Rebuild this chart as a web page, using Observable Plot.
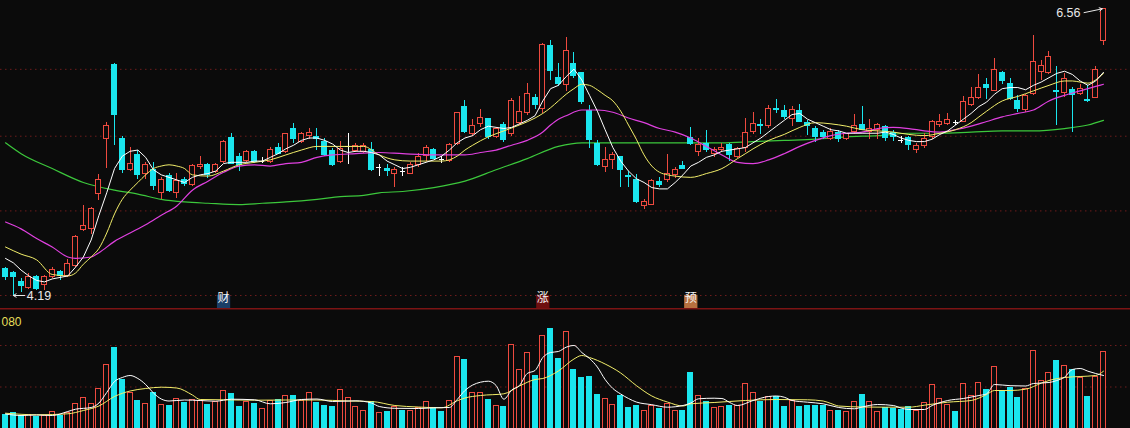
<!DOCTYPE html>
<html><head><meta charset="utf-8">
<script src="https://cdn.jsdelivr.net/npm/d3@7"></script>
<script src="https://cdn.jsdelivr.net/npm/@observablehq/plot@0.6"></script>
<style>
html,body{margin:0;padding:0;background:#0b0b0b;}
#chart{width:1130px;height:428px;overflow:hidden;position:relative;background:#0b0b0b;}
#chart svg{display:block;}
</style></head><body><div id="chart"></div>
<script>
// ---- candle data ----
const openP = [4.37,4.34,4.28,4.24,4.31,4.26,4.31,4.35,4.32,4.39,
4.64,4.65,4.91,5.35,6.01,5.35,5.10,5.22,5.07,5.10,
4.92,5.05,4.92,5.02,4.98,5.12,5.14,5.08,5.16,5.36,
5.20,5.17,5.24,5.17,5.16,5.28,5.24,5.44,5.33,5.38,
5.37,5.33,5.25,5.16,5.29,5.25,5.24,5.26,5.12,5.11,
5.07,5.09,5.07,5.14,5.21,5.26,5.18,5.17,5.31,5.63,
5.39,5.48,5.52,5.37,5.47,5.39,5.49,5.57,5.71,5.61,
6.19,5.89,5.82,6.02,5.93,5.59,5.31,5.12,5.18,5.20,
5.05,5.02,4.82,4.83,5.00,5.02,5.06,5.13,5.36,5.24,
5.31,5.23,5.26,5.30,5.20,5.28,5.41,5.47,5.46,5.61,
5.59,5.52,5.59,5.49,5.44,5.40,5.35,5.40,5.35,5.41,
5.47,5.41,5.43,5.45,5.40,5.34,5.36,5.26,5.29,5.37,
5.47,5.48,5.49,5.50,5.64,5.71,5.82,5.77,5.93,5.83,
5.68,5.60,5.74,5.94,5.93,5.77,5.75,5.78,5.74,5.69,
5.71,6.24];
const highP = [4.38,4.35,4.30,4.34,4.32,4.32,4.38,4.36,4.43,4.60,
4.82,4.81,5.06,5.49,6.02,5.37,5.28,5.26,5.16,5.16,
5.04,5.07,5.07,5.04,5.14,5.21,5.15,5.15,5.34,5.40,
5.23,5.26,5.26,5.20,5.28,5.31,5.40,5.48,5.41,5.44,
5.44,5.36,5.27,5.33,5.40,5.31,5.31,5.32,5.14,5.14,
5.12,5.12,5.16,5.23,5.30,5.27,5.21,5.31,5.57,5.68,
5.52,5.60,5.53,5.45,5.49,5.70,5.72,5.84,5.74,6.21,
6.24,6.02,6.27,6.13,5.94,5.64,5.34,5.28,5.24,5.21,
5.09,5.06,4.87,5.02,5.04,5.22,5.12,5.17,5.45,5.36,
5.42,5.28,5.31,5.31,5.28,5.53,5.58,5.52,5.64,5.69,
5.64,5.63,5.65,5.51,5.46,5.42,5.44,5.42,5.40,5.56,
5.63,5.52,5.48,5.47,5.42,5.37,5.37,5.31,5.40,5.51,
5.56,5.57,5.51,5.72,5.80,5.92,5.88,6.07,5.95,5.88,
5.73,5.74,6.29,6.05,6.14,5.99,5.93,5.80,5.83,5.82,
5.99,6.56];
const lowP = [4.29,4.19,4.21,4.23,4.22,4.22,4.30,4.29,4.31,4.38,
4.63,4.61,4.86,5.11,5.30,5.07,5.09,5.02,5.02,4.94,
4.87,4.92,4.88,4.97,4.97,5.10,5.03,5.07,5.15,5.14,
5.09,5.16,5.15,5.15,5.15,5.22,5.23,5.31,5.31,5.35,
5.26,5.21,5.13,5.15,5.14,5.24,5.23,5.09,5.05,5.05,
4.96,5.05,5.06,5.12,5.17,5.18,5.15,5.16,5.30,5.40,
5.37,5.45,5.35,5.36,5.32,5.37,5.47,5.55,5.60,5.57,
5.86,5.81,5.76,5.88,5.65,5.27,5.13,5.08,5.10,4.96,
4.96,4.84,4.79,4.82,4.96,5.00,5.03,5.10,5.30,5.21,
5.24,5.20,5.25,5.17,5.19,5.24,5.39,5.39,5.44,5.57,
5.52,5.46,5.49,5.38,5.32,5.35,5.34,5.32,5.34,5.39,
5.42,5.35,5.35,5.33,5.33,5.31,5.26,5.23,5.27,5.35,
5.45,5.47,5.47,5.49,5.63,5.69,5.69,5.76,5.83,5.68,
5.58,5.58,5.73,5.86,5.92,5.47,5.71,5.41,5.73,5.67,
5.70,6.19];
const closeP = [4.31,4.31,4.25,4.31,4.23,4.31,4.36,4.32,4.40,4.59,
4.67,4.80,5.02,5.46,5.56,5.10,5.15,5.06,5.14,4.97,
5.02,4.93,5.01,4.99,5.13,5.14,5.06,5.14,5.33,5.15,
5.14,5.24,5.16,5.17,5.26,5.23,5.39,5.35,5.39,5.40,
5.35,5.22,5.14,5.27,5.29,5.29,5.29,5.10,5.12,5.09,
5.10,5.09,5.14,5.20,5.28,5.19,5.18,5.30,5.57,5.41,
5.46,5.53,5.37,5.44,5.34,5.68,5.58,5.74,5.64,6.20,
5.95,5.83,6.14,5.91,5.67,5.34,5.14,5.18,5.22,5.10,
5.04,4.85,4.85,5.01,4.98,5.07,5.10,5.11,5.31,5.30,
5.26,5.26,5.28,5.22,5.27,5.40,5.48,5.46,5.61,5.60,
5.54,5.60,5.50,5.46,5.37,5.37,5.41,5.35,5.39,5.46,
5.43,5.44,5.47,5.36,5.37,5.34,5.30,5.29,5.35,5.50,
5.50,5.51,5.49,5.67,5.71,5.80,5.80,5.96,5.86,5.70,
5.61,5.72,6.04,6.00,6.08,5.76,5.88,5.73,5.79,5.68,
5.96,6.56];
const volume = [13.7,15.3,13,13.7,12,13,16.3,13,15.3,24.7,
30.7,24.7,39.7,63.7,80.7,48.7,35.7,28,24.7,35.7,
23.7,22.7,29.3,26,28.7,28,24,26.3,38,34.7,
22,27,24.7,19.7,28,28.7,33,33,28,35.7,
26,23,21.3,38.7,30.7,22,18,26.7,15.5,16.3,
21.3,18,18,20.7,27,19.7,16.3,28,72,69,
36,36,29,23,22,84,59,75.3,53,93,
100,70,97,59,50.3,52,34,29.7,24,33,
20.3,23,18,23,19.7,24.7,18,17.3,55.3,33,
27,20.3,22,22.3,23,44.7,35.7,26.3,32,32,
21.3,27.3,21.3,23,22.3,22.3,18,17.3,17,27,
34,27,17,20.3,19.3,18.7,21.3,17.3,25.7,43.7,
29.7,24,17,44.7,33,45.7,39,62,37.3,40.7,
30.3,39.7,78,48,55.3,68,63,58.7,50.3,31.3,
52,77];

// ---- moving averages ----
const ma5 = [4.44,4.41,4.36,4.32,4.29,4.28,4.30,4.31,4.32,4.38,
4.45,4.57,4.75,4.92,5.11,5.21,5.25,5.26,5.20,5.10,
5.06,5.04,5.02,5.00,5.04,5.06,5.07,5.09,5.15,5.16,
5.16,5.16,5.17,5.17,5.20,5.23,5.27,5.30,5.34,5.36,
5.36,5.34,5.31,5.26,5.24,5.25,5.25,5.24,5.22,5.17,
5.14,5.11,5.12,5.14,5.16,5.18,5.21,5.26,5.32,5.36,
5.38,5.43,5.46,5.45,5.44,5.45,5.48,5.51,5.55,5.68,
5.79,5.82,5.90,5.97,5.87,5.73,5.59,5.43,5.28,5.17,
5.09,5.03,5.00,4.96,4.95,4.95,5.00,5.06,5.13,5.16,
5.20,5.22,5.25,5.26,5.27,5.28,5.32,5.36,5.41,5.46,
5.51,5.56,5.57,5.52,5.49,5.46,5.43,5.42,5.40,5.40,
5.40,5.40,5.40,5.41,5.39,5.36,5.34,5.33,5.33,5.35,
5.39,5.42,5.47,5.52,5.57,5.63,5.67,5.74,5.79,5.80,
5.80,5.78,5.82,5.85,5.89,5.93,5.95,5.92,5.86,5.82,
5.86,5.94];
const ma10Idx = [0,2,4,6,8,9,10,11,12,13,14,15,16,17,18,19,20,21,22,23,24,26,28,30,32,34,36,38,40,43,46,48,50,52,54,56,58,59,60,62,64,66,68,69,70,71,72,73,74,75,76,77,78,79,80,81,82,83,84,85,86,88,90,92,94,95,96,98,100,102,104,106,108,110,112,114,116,118,120,122,124,125,126,128,130,132,134,136,137,138,139,140,141];
const ma10 = [4.52,4.47,4.43,4.33,4.32,4.34,4.40,4.45,4.51,4.62,4.76,4.87,4.94,5.00,5.06,5.11,5.13,5.14,5.13,5.11,5.06,5.05,5.09,5.14,5.16,5.18,5.22,5.26,5.29,5.29,5.29,5.22,5.18,5.17,5.17,5.17,5.21,5.26,5.30,5.37,5.42,5.47,5.53,5.57,5.62,5.68,5.74,5.79,5.83,5.82,5.78,5.73,5.68,5.59,5.47,5.35,5.22,5.13,5.08,5.06,5.05,5.04,5.07,5.11,5.19,5.23,5.27,5.34,5.39,5.45,5.49,5.48,5.46,5.43,5.42,5.41,5.39,5.38,5.40,5.43,5.49,5.54,5.59,5.68,5.72,5.77,5.82,5.86,5.86,5.85,5.84,5.87,5.93];
const ma20Idx = [0,2,4,6,8,9,11,12,14,16,18,20,22,24,26,28,30,32,34,36,38,40,42,45,48,51,55,59,61,63,65,67,69,70,71,72,74,76,78,80,82,84,86,88,90,92,94,96,98,100,102,104,106,108,110,112,114,116,118,120,122,124,126,128,130,132,134,136,138,140,141];
const ma20 = [4.70,4.65,4.58,4.52,4.45,4.44,4.45,4.48,4.56,4.62,4.68,4.75,4.82,4.94,5.01,5.08,5.13,5.14,5.13,5.15,5.16,5.20,5.22,5.23,5.24,5.23,5.22,5.22,5.24,5.26,5.30,5.34,5.41,5.47,5.52,5.55,5.60,5.60,5.58,5.53,5.49,5.44,5.41,5.36,5.29,5.22,5.16,5.15,5.18,5.23,5.29,5.34,5.38,5.40,5.41,5.44,5.45,5.44,5.42,5.41,5.43,5.46,5.50,5.54,5.57,5.60,5.68,5.73,5.77,5.81,5.83];
const ma60Idx = [0,2,6,10,14,17,20,23,26,30,33,36,40,43,46,48,51,55,59,63,67,71,74,78,85,92,96,100,104,108,112,116,120,124,128,132,136,139,141];
const ma60 = [5.32,5.23,5.11,5.00,4.94,4.91,4.87,4.85,4.84,4.83,4.84,4.85,4.87,4.89,4.90,4.92,4.93,4.96,5.01,5.10,5.19,5.29,5.32,5.32,5.32,5.32,5.33,5.34,5.35,5.37,5.38,5.40,5.40,5.41,5.42,5.42,5.44,5.47,5.51];
const vma5Idx = [0,2,4,6,8,9,11,12,13,14,15,16,17,18,19,20,21,23,25,27,29,32,34,36,38,40,42,45,47,48,50,53,55,57,58,59,60,61,62,63,64,65,66,67,68,69,70,71,72,73,74,75,76,77,78,79,80,81,83,85,87,88,89,91,92,93,94,96,98,99,100,101,103,105,107,109,110,112,114,115,116,118,119,121,123,125,126,127,129,131,132,134,135,136,137,138,139,140,141];
const vma5 = [14.5,13,13.5,13,17,19.3,21,25.5,36,47,51,53,50,44,35.5,29.5,27.5,28.5,28,27.3,29.3,28.7,24.7,26,29,29.5,27,27.7,25.5,22,20.2,20,20.7,21,29,38,43.5,46.3,47.3,43,29.3,38.5,43,55,58,71,76,77,81.3,83,76,70,61.5,49,40,34.5,30,26.5,23.8,21.3,23,25.5,29.7,30.3,30,26,23,28,32,32.5,31.3,28,26.3,24.7,21,19.7,21.5,24,23,20.5,19,19,23,28,30,33,34.7,44,42.8,42.5,45,46,48,51.3,59,60,57.3,55,53];
const vma10Idx = [0,4,8,10,12,14,16,18,20,22,24,25,28,32,36,40,44,47,50,53,56,58,59,61,64,66,68,69,71,73,74,75,77,79,81,83,85,87,88,91,95,99,103,105,106,107,110,113,116,118,121,124,126,127,129,131,133,134,136,138,140,141];
const vma10 = [15.3,13.7,14.7,18,22.5,32,37.5,40,41.3,40.5,33.5,29,28.7,28.3,28.5,28.5,27.5,27,23,21.5,20.7,27.7,30.5,33,34.7,42.5,49,50,57.5,69.5,73,71,64.5,55.5,43,32.5,26.5,22.5,24.7,26,28,29,28.7,27.5,25,22.5,21.5,21.3,21.3,23.3,26.3,28,34,38,38,39.3,45.3,48,51,52,53,57.3];

// ---- reference levels and markers ----
const priceGrid = [4.19, 4.7825, 5.375, 5.9675];
const volGrid = [41.5, 83];
const volLabel = "080";
const eventIdx = [28, 69, 88];
const eventText = ["财", "涨", "预"];
const eventColor = ["#1b3e66", "#6e0f0f", "#b8703f"];

// ---- build ----
const BG = "#0b0b0b", RED = "#ee4a3f", CYAN = "#1ae6ee", WHITE = "#ffffff";
const N = openP.length;
const candles = d3.range(N).map(i => {
  const o = openP[i], c = closeP[i];
  const kind = c > o ? "up" : c < o ? "down" : "doji";
  const volUp = c > o || (c === o && (i === 0 || c >= closeP[i - 1]));
  return {i, o, h: highP[i], l: lowP[i], c, v: volume[i], kind, volUp};
});
const col = d => d.kind === "up" ? RED : d.kind === "down" ? CYAN : WHITE;
const hw = 0.32;
const pts = (idx, vals) => idx.map((i, k) => ({i, v: vals[k]}));
const ma5Pts = ma5.map((v, i) => ({i, v}));
const xScale = {domain: [0, N - 1], range: [5, 1103], axis: null};
const hiIdx = d3.maxIndex(highP), loIdx = d3.minIndex(lowP);
const hiPt = [{i: hiIdx, p: highP[hiIdx]}], loPt = [{i: loIdx, p: lowP[loIdx]}];
const events = eventIdx.map((i, k) => ({i, t: eventText[k], bg: eventColor[k]}));

const price = Plot.plot({
  width: 1130, height: 308, margin: 0,
  style: {background: BG, fontFamily: "Liberation Sans, Arial, sans-serif"},
  x: xScale,
  y: {type: "log", domain: [4.19, 6.56], range: [295, 8.3], axis: null},
  color: {type: "identity"},
  marks: [
    Plot.ruleY(priceGrid, {stroke: "#6e1c1c", strokeDasharray: "1.5,3.5"}),
    Plot.line(pts(ma60Idx, ma60), {x: "i", y: "v", stroke: "#3cc83c", strokeWidth: 1.2, curve: "monotone-x"}),
    Plot.ruleX(candles, {x: "i", y1: "l", y2: "h", stroke: col, shapeRendering: "crispEdges"}),
    Plot.rect(candles.filter(d => d.kind !== "doji"), {
      x1: d => d.i - hw, x2: d => d.i + hw, y1: "o", y2: "c",
      fill: d => d.kind === "up" ? BG : CYAN, stroke: col, shapeRendering: "crispEdges"}),
    Plot.ruleY(candles.filter(d => d.kind === "doji"), {
      y: "o", x1: d => d.i - hw, x2: d => d.i + hw, stroke: WHITE, shapeRendering: "crispEdges"}),
    Plot.line(pts(ma20Idx, ma20), {x: "i", y: "v", stroke: "#e040e0", strokeWidth: 1.2, curve: "monotone-x"}),
    Plot.line(pts(ma10Idx, ma10), {x: "i", y: "v", stroke: "#f2ee6a", strokeWidth: 1, curve: "monotone-x"}),
    Plot.line(ma5Pts, {x: "i", y: "v", stroke: WHITE, strokeWidth: 1}),
    // extreme labels
    Plot.arrow(hiPt, {x1: d => d.i - 2.5, y1: d => d.p * 0.994, x2: d => d.i - 0.15, y2: "p",
      stroke: "#e8e8e8", strokeWidth: 1, headLength: 5, bend: 0}),
    Plot.text(hiPt, {x: "i", y: "p", text: d => d.p.toFixed(2), dx: -23, dy: 4.5, textAnchor: "end",
      fill: "#e8e8e8", fontSize: 12.5}),
    Plot.arrow(loPt, {x1: d => d.i + 1.45, y1: "p", x2: "i", y2: "p",
      stroke: "#e8e8e8", strokeWidth: 1, headLength: 5}),
    Plot.text(loPt, {x: "i", y: "p", text: d => d.p.toFixed(2), dx: 13.5, dy: 0, textAnchor: "start",
      fill: "#e8e8e8", fontSize: 12.5}),
    // event markers
    Plot.dot(events, {x: "i", frameAnchor: "bottom", dy: -7, symbol: "square", r: 7.5, fill: "bg"}),
    Plot.text(events, {x: "i", text: "t", frameAnchor: "bottom", dy: -7, fill: "#f4f4f4",
      fontSize: 12, fontFamily: "Noto Sans CJK SC"})
  ]
});

const vol = Plot.plot({
  width: 1130, height: 120, margin: 0,
  style: {background: BG, fontFamily: "Liberation Sans, Arial, sans-serif"},
  x: xScale,
  y: {domain: [0, 120], range: [120, 0], axis: null},
  color: {type: "identity"},
  marks: [
    Plot.ruleY(volGrid, {stroke: "#6e1c1c", strokeDasharray: "1.5,3.5"}),
    Plot.rect(candles, {x1: d => d.i - hw, x2: d => d.i + hw, y1: 0, y2: "v",
      fill: d => d.volUp ? BG : CYAN, stroke: d => d.volUp ? RED : CYAN, shapeRendering: "crispEdges"}),
    Plot.line(pts(vma10Idx, vma10), {x: "i", y: "v", stroke: "#f2ee6a", strokeWidth: 1, curve: "monotone-x"}),
    Plot.line(pts(vma5Idx, vma5), {x: "i", y: "v", stroke: WHITE, strokeWidth: 1, curve: "monotone-x"}),
    Plot.frame({anchor: "top", stroke: "#7d1414", strokeWidth: 2}),
    Plot.text([volLabel], {frameAnchor: "top-left", dx: 1, dy: 9, textAnchor: "start",
      fill: "#e6df5a", fontSize: 12})
  ]
});

const root = document.getElementById("chart");
root.appendChild(price);
root.appendChild(vol);
</script>
</body></html>
